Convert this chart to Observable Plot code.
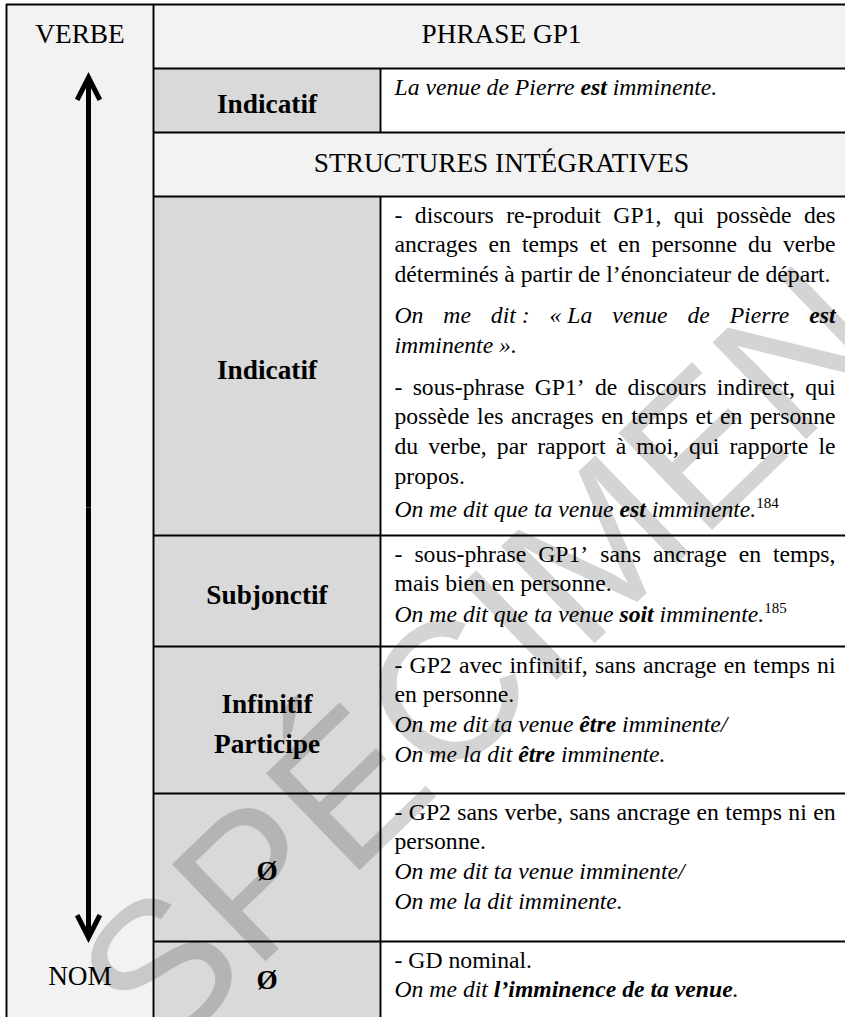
<!DOCTYPE html>
<html>
<head>
<meta charset="utf-8">
<script src="https://cdn.jsdelivr.net/npm/d3@7"></script>
<script src="https://cdn.jsdelivr.net/npm/@observablehq/plot@0.6"></script>
<style>
  html, body { margin: 0; padding: 0; background: #ffffff; }
  svg { display: block; }
</style>
</head>
<body>
<div id="chart"></div>
<script>
// ================= DATA =================
const axisLabels = ["VERBE", "NOM"];
const headerTitle = "PHRASE GP1";
const sectionTitle = "STRUCTURES INTÉGRATIVES";
const modes = ["Indicatif", "Indicatif", "Subjonctif", "Infinitif\nParticipe", "Ø", "Ø"];
// each row: paragraphs; **bold** and ^superscript^ markup; lines as broken in the source
const descriptions = [
  [
    {style: "italic", lines: ["La venue de Pierre **est** imminente."]}
  ],
  [
    {style: "roman", lines: ["- discours re-produit GP1, qui possède des", "ancrages en temps et en personne du verbe", "déterminés à partir de l’énonciateur de départ."]},
    {style: "italic", lines: ["On me dit\u00a0: «\u00a0La venue de Pierre **est**", "imminente\u00a0»."]},
    {style: "roman", lines: ["- sous-phrase GP1’ de discours indirect, qui", "possède les ancrages en temps et en personne", "du verbe, par rapport à moi, qui rapporte le", "propos."]},
    {style: "italic", lines: ["On me dit que ta venue **est** imminente.^184^"]}
  ],
  [
    {style: "roman", lines: ["- sous-phrase GP1’ sans ancrage en temps,", "mais bien en personne."]},
    {style: "italic", lines: ["On me dit que ta venue **soit** imminente.^185^"]}
  ],
  [
    {style: "roman", lines: ["- GP2 avec infinitif, sans ancrage en temps ni", "en personne."]},
    {style: "italic", lines: ["On me dit ta venue **être** imminente/"]},
    {style: "italic", lines: ["On me la dit **être** imminente."]}
  ],
  [
    {style: "roman", lines: ["- GP2 sans verbe, sans ancrage en temps ni en", "personne."]},
    {style: "italic", lines: ["On me dit ta venue imminente/"]},
    {style: "italic", lines: ["On me la dit imminente."]}
  ],
  [
    {style: "roman", lines: ["- GD nominal."]},
    {style: "italic", lines: ["On me dit **l’imminence de ta venue**."]}
  ]
];
const watermark = "SPÉCIMEN";

// ================= LAYOUT & STYLE =================
const W = 845, H = 1017;
const colX = [6, 153, 380, 850];                                   // table column edges
const rowY = [4, 68, 132, 196, 535, 646, 793, 941, 1011];          // table row edges
const contentRows = [1, 3, 4, 5, 6, 7];                            // rows holding a mode + description
const paraSpace = [[0], [0, 11, 12, 3], [0, 1], [0, 0, 0], [0, 0, 0], [0, 0]];
const LINE_H = 29.8, FIRST_OFF = 26;
const TEXT_X0 = 394, TEXT_X1 = 835;
const FS_BODY = 23.7, FS_HEAD = 27.3, FS_SUP = 15;
const SERIF = '"Liberation Serif", "Times New Roman", Times, serif';
const LIGHT = "#f2f2f2", MID = "#d9d9d9";
const ARROW_X = 88, ARROW_TOP = 77, ARROW_BOTTOM = 937;
const WM = {x: 484, y: 662, angle: -44, size: 196};

// ---- measure text with canvas ----
const ctx = document.createElement("canvas").getContext("2d");
const fontFor = {
  roman: `normal normal ${FS_BODY}px "Liberation Serif"`,
  italic: `italic normal ${FS_BODY}px "Liberation Serif"`,
  bold: `normal bold ${FS_BODY}px "Liberation Serif"`,
  bolditalic: `italic bold ${FS_BODY}px "Liberation Serif"`,
  sup: `normal normal ${FS_SUP}px "Liberation Serif"`
};
function measure(text, style) { ctx.font = fontFor[style]; return ctx.measureText(text).width; }

function parseLine(line, base) {
  const parts = line.split(/(\*\*[^*]+\*\*|\^[^^]+\^)/).filter(s => s.length);
  const words = [[]];
  for (const p of parts) {
    let style = base, text = p;
    if (p.startsWith("**")) { style = base === "italic" ? "bolditalic" : "bold"; text = p.slice(2, -2); }
    else if (p.startsWith("^")) { style = "sup"; text = p.slice(1, -1); }
    text.split(" ").forEach((piece, k) => {
      if (k > 0) words.push([]);
      if (piece) words[words.length - 1].push({text: piece, style});
    });
  }
  return words.filter(w => w.length);
}

// ---- build the text runs (justified lines like the source) ----
const runs = [];
descriptions.forEach((paras, r) => {
  const top = rowY[contentRows[r]];
  let y = top + FIRST_OFF - LINE_H;
  paras.forEach((para, pi) => {
    y += paraSpace[r][pi] || 0;
    para.lines.forEach((line, li) => {
      y += LINE_H;
      const words = parseLine(line, para.style);
      const widths = words.map(w => d3.sum(w, run => measure(run.text, run.style)));
      const justify = li < para.lines.length - 1 && words.length > 1;
      const gap = justify ? (TEXT_X1 - TEXT_X0 - d3.sum(widths)) / (words.length - 1) : measure(" ", para.style);
      let x = TEXT_X0;
      words.forEach((w) => {
        for (const run of w) {
          runs.push({x, y, text: run.text, style: run.style});
          x += measure(run.text, run.style);
        }
        x += gap;
      });
    });
  });
});

// ---- cells ----
const cells = [];
cells.push({x1: colX[0], x2: colX[1], y1: rowY[0], y2: H, fill: LIGHT});
cells.push({x1: colX[1], x2: colX[3], y1: rowY[0], y2: rowY[1], fill: LIGHT});
cells.push({x1: colX[1], x2: colX[3], y1: rowY[2], y2: rowY[3], fill: LIGHT});
contentRows.forEach((ri, k) => {
  const y2 = k === contentRows.length - 1 ? H : rowY[ri + 1];
  cells.push({x1: colX[1], x2: colX[2], y1: rowY[ri], y2, fill: MID});
  cells.push({x1: colX[2], x2: colX[3], y1: rowY[ri], y2, fill: "#ffffff"});
});

const hLines = [{y: rowY[0], x1: colX[0], x2: colX[3]}]
  .concat(rowY.slice(1, -1).map(y => ({y, x1: colX[1], x2: colX[3]})));
const vLines = [
  {x: colX[0], y1: rowY[0], y2: H},
  {x: colX[1], y1: rowY[0], y2: H},
  {x: colX[2], y1: rowY[1], y2: rowY[2]},
  {x: colX[2], y1: rowY[3], y2: H}
];

const modeLabels = modes.map((m, k) => {
  const ri = contentRows[k];
  return {text: m, x: (colX[1] + colX[2]) / 2, y: (rowY[ri] + rowY[ri + 1]) / 2};
});
const headLabels = [
  {text: axisLabels[0], x: (colX[0] + colX[1]) / 2, y: (rowY[0] + rowY[1]) / 2 - 2},
  {text: axisLabels[1], x: (colX[0] + colX[1]) / 2, y: (rowY[7] + rowY[8]) / 2},
  {text: headerTitle, x: (colX[1] + W) / 2 + 2, y: (rowY[0] + rowY[1]) / 2 - 2},
  {text: sectionTitle, x: (colX[1] + W) / 2 + 2, y: (rowY[2] + rowY[3]) / 2 - 1}
];
const mid = (ARROW_TOP + ARROW_BOTTOM) / 2;
const arrows = [{x: ARROW_X, from: mid, to: ARROW_TOP}, {x: ARROW_X, from: mid, to: ARROW_BOTTOM}];

const textMark = (style, extra) => Plot.text(runs.filter(d => d.style === style), {
  x: "x", y: "y", text: "text", textAnchor: "start", lineAnchor: "bottom",
  fontFamily: SERIF, fontSize: style === "sup" ? FS_SUP : FS_BODY,
  fontStyle: style === "italic" || style === "bolditalic" ? "italic" : "normal",
  fontWeight: style === "bold" || style === "bolditalic" ? "bold" : "normal",
  fill: "#000", ...extra
});

const chart = Plot.plot({
  width: W, height: H,
  margin: 0,
  x: {domain: [0, W], range: [0, W], axis: null},
  y: {domain: [0, H], range: [0, H], axis: null},
  color: {type: "identity"},
  style: {background: "#ffffff", overflow: "hidden"},
  marks: [
    Plot.rect(cells, {x1: "x1", x2: "x2", y1: "y1", y2: "y2", fill: "fill"}),
    Plot.text([watermark], {
      x: () => WM.x, y: () => WM.y, text: d => d, rotate: WM.angle,
      fontFamily: '"Liberation Sans", Arial, sans-serif', fontSize: WM.size,
      textAnchor: "middle", lineAnchor: "middle", fill: "#000", fillOpacity: 0.17
    }),
    Plot.ruleY(hLines, {y: "y", x1: "x1", x2: "x2", stroke: "#000", strokeWidth: 1.9}),
    Plot.ruleX(vLines, {x: "x", y1: "y1", y2: "y2", stroke: "#000", strokeWidth: 1.9}),
    Plot.arrow(arrows, {
      x1: "x", x2: "x", y1: "from", y2: "to", stroke: "#000", strokeWidth: 5,
      headLength: 7.5, headAngle: 54, strokeLinecap: "butt", strokeLinejoin: "miter", strokeMiterlimit: 10
    }),
    Plot.text(headLabels, {
      x: "x", y: "y", text: "text", textAnchor: "middle", lineAnchor: "middle",
      fontFamily: SERIF, fontSize: FS_HEAD, fill: "#000"
    }),
    Plot.text(modeLabels, {
      x: "x", y: "y", text: "text", textAnchor: "middle", lineAnchor: "middle", lineHeight: 1.46,
      fontFamily: SERIF, fontSize: FS_HEAD, fontWeight: "bold", fill: "#000"
    }),
    textMark("roman"),
    textMark("italic"),
    textMark("bold"),
    textMark("bolditalic"),
    textMark("sup", {dy: -9})
  ]
});
document.getElementById("chart").appendChild(chart);
</script>
</body>
</html>
